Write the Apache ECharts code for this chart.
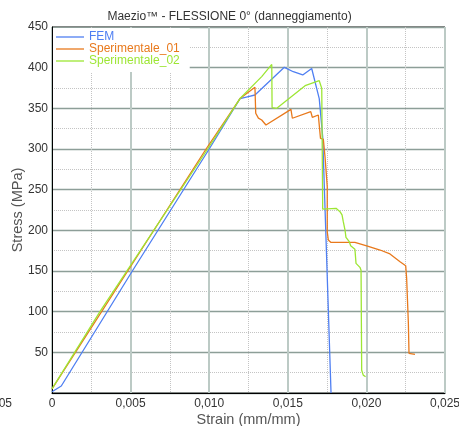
<!DOCTYPE html>
<html><head><meta charset="utf-8">
<script src="https://cdn.jsdelivr.net/npm/echarts@6/dist/echarts.min.js"></script>
<style>html,body{margin:0;padding:0;background:#fff}#c{width:459px;height:426px}</style>
</head><body><div id="c"></div>
<script>
const femStrain = [0, 0.00059, 0.00511, 0.0100, 0.01196, 0.01249, 0.01291, 0.01478, 0.01535, 0.01595, 0.01652, 0.0170, 0.01722, 0.01775];
const femStress = [1.6, 8.6, 150, 300, 362, 364.5, 366.4, 400.4, 395, 391, 399, 362, 315, 0];

const sp01Strain = [0, 0.0098, 0.01196, 0.01291, 0.01296, 0.01305, 0.01313, 0.01325, 0.01334, 0.01345, 0.01361, 0.0152, 0.01529, 0.01646, 0.01656, 0.01694, 0.01705, 0.01708, 0.01726, 0.01737, 0.01748, 0.01751, 0.01751, 0.01758, 0.01773, 0.01927, 0.02002, 0.02087, 0.0215, 0.02214, 0.0225, 0.02256, 0.02267, 0.02271, 0.02309];
const sp01Stress = [5, 300, 362, 376, 344, 346, 338, 339, 335.6, 336, 329.5, 348.7, 337.8, 346, 339, 341.8, 340, 313, 312, 290, 288.5, 253.7, 198, 188, 185.3, 185.3, 181, 175.8, 171, 161.4, 156.5, 141, 85.7, 48.8, 47.5];

const sp02Strain = [0, 0.00305, 0.0099, 0.01196, 0.01334, 0.01398, 0.0140, 0.0143, 0.0161, 0.0170, 0.01716, 0.01722, 0.01807, 0.01832, 0.01845, 0.01853, 0.01864, 0.0187, 0.01891, 0.019, 0.01927, 0.01934, 0.01959, 0.01966, 0.0197, 0.0198, 0.01995];
const sp02Stress = [5, 100, 300, 362, 389, 404, 351, 350, 377.8, 384, 374.5, 226, 227, 223, 219, 210.6, 200.4, 191.4, 186, 181, 176.7, 159.4, 154.5, 151, 28, 22, 20];

const seriesNames = ['FEM', 'Sperimentale_01', 'Sperimentale_02'];
const seriesColors = ['#4f7ff2', '#e8791c', '#9de634'];
const xTicks = [0, 0.005, 0.010, 0.015, 0.020, 0.025];
const yTicks = [0, 50, 100, 150, 200, 250, 300, 350, 400, 450];

const zip = (a, b) => a.map((v, i) => [v, b[i]]);
const datasets = [zip(femStrain, femStress), zip(sp01Strain, sp01Stress), zip(sp02Strain, sp02Stress)];
const FONT = '"Liberation Sans", Arial, Helvetica, sans-serif';

const chart = echarts.init(document.getElementById('c'), null, {renderer: 'canvas'});
chart.setOption({
  animation: false,
  backgroundColor: '#fff',
  title: {
    text: 'Maezio\u2122 - FLESSIONE 0\u00b0 (danneggiamento)',
    left: 'center', top: 6,
    textStyle: {fontFamily: FONT, fontSize: 12, fontWeight: 'normal', color: '#333'}
  },
  legend: {
    orient: 'vertical', left: 53, top: 28,
    padding: [3, 10, 5, 3],
    backgroundColor: '#fff',
    itemWidth: 28, itemHeight: 8, itemGap: 0,
    icon: 'path://M0,0 L28,0 L28,1.3 L0,1.3 Z',
    textStyle: {fontFamily: FONT, fontSize: 12, lineHeight: 11},
    data: seriesNames.map((n, i) => ({name: n, textStyle: {color: seriesColors[i]}}))
  },
  grid: {left: 52, right: 14, top: 27, bottom: 33, show: true, borderColor: '#000', borderWidth: 1,
    containLabel: false, outerBoundsMode: 'none'},
  xAxis: {
    type: 'value', min: xTicks[0], max: xTicks[xTicks.length - 1], interval: 0.005,
    name: 'Strain (mm/mm)', nameLocation: 'middle', nameGap: 19.5, nameMoveOverlap: false,
    nameTextStyle: {fontFamily: FONT, fontSize: 14.5, color: '#555'},
    axisLine: {show: true, onZero: false, lineStyle: {color: '#000', width: 1}},
    axisTick: {show: false},
    axisLabel: {fontFamily: FONT, fontSize: 12, color: '#333', margin: 5,
      showMinLabel: true, showMaxLabel: true,
      formatter: v => v === 0 ? '0' : v.toFixed(3).replace('.', ',')},
    splitLine: {show: true, lineStyle: {color: '#bccac5', width: 2}},
    minorTick: {show: false, splitNumber: 2},
    minorSplitLine: {show: true, lineStyle: {color: '#c4c4c4', type: 'dotted', width: 1}}
  },
  yAxis: {
    type: 'value', min: yTicks[0], max: yTicks[yTicks.length - 1], interval: 50,
    name: 'Stress (MPa)', nameLocation: 'middle', nameGap: 27, nameMoveOverlap: false,
    nameTextStyle: {fontFamily: FONT, fontSize: 14.5, color: '#555'},
    axisLine: {show: true, onZero: false, lineStyle: {color: '#000', width: 1}},
    axisTick: {show: false},
    axisLabel: {fontFamily: FONT, fontSize: 12, color: '#333', margin: 4,
      formatter: v => v === 0 ? '' : String(v)},
    splitLine: {show: true, lineStyle: {color: '#8d9e98', width: 1.3}},
    minorTick: {show: false, splitNumber: 2},
    minorSplitLine: {show: true, lineStyle: {color: '#c4c4c4', type: 'dotted', width: 1}}
  },
  graphic: [{
    type: 'text', left: -22, top: 398,
    style: {text: '-0,005', font: '12px ' + FONT, fill: '#333'}
  }],
  series: seriesNames.map((n, i) => ({
    name: n, type: 'line', data: datasets[i], showSymbol: false, symbol: 'none',
    clip: true,
    lineStyle: {color: seriesColors[i], width: 1.3},
    itemStyle: {color: seriesColors[i]}
  }))
});
</script></body></html>
